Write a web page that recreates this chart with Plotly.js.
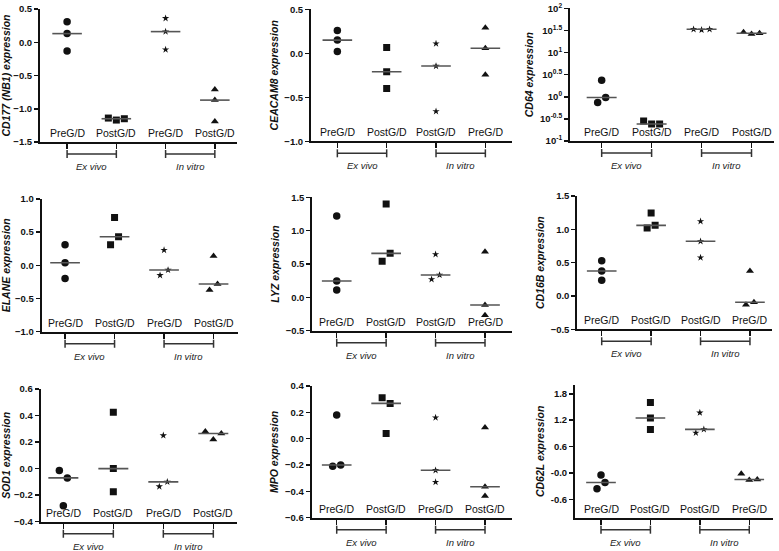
<!DOCTYPE html>
<html><head><meta charset="utf-8">
<script src="https://cdn.plot.ly/plotly-3.0.1.min.js"></script>
<style>html,body{margin:0;padding:0;background:#fff}#chart{width:779px;height:551px}</style>
</head><body><div id="chart"></div>
<script>
// ---------- data ----------
const CATEGORY_POS = [1, 2, 3, 4];
const GROUP_NAMES = ['Ex vivo', 'In vitro'];
const LABELS_A = ['PreG/D', 'PostG/D', 'PreG/D', 'PostG/D'];
const LABELS_B = ['PreG/D', 'PostG/D', 'PostG/D', 'PreG/D'];
const GENES = ['CD177 (NB1)', 'CEACAM8', 'CD64', 'ELANE', 'LYZ', 'CD16B', 'SOD1', 'MPO', 'CD62L'];

// each: [ex vivo 1st col, ex vivo 2nd col, in vitro 1st col, in vitro 2nd col]
const CD177   = [[0.31, 0.13, -0.13], [-1.14, -1.17, -1.15], [0.36, 0.16, -0.11], [-0.71, -0.87, -1.19]];
const CEACAM8 = [[0.26, 0.15, 0.02], [0.065, -0.21, -0.40], [0.11, -0.145, -0.66], [0.29, 0.057, -0.245]];
const CD64    = [[2.37, 0.741, 0.964], [0.284, 0.243, 0.243], [33.5, 32.4, 33.5], [28.6, 26.3, 27.2]];
const ELANE   = [[0.31, 0.04, -0.20], [0.31, 0.72, 0.43], [0.23, -0.15, -0.07], [0.14, -0.37, -0.28]];
const LYZ     = [[1.22, 0.245, 0.11], [0.54, 1.40, 0.66], [0.645, 0.27, 0.335], [0.685, -0.115, -0.27]];
const CD16B   = [[0.53, 0.375, 0.235], [1.02, 1.245, 1.06], [1.12, 0.82, 0.575], [0.375, -0.13, -0.095]];
const SOD1    = [[-0.015, -0.28, -0.07], [0.425, 0.0, -0.174], [0.25, -0.135, -0.10], [0.28, 0.22, 0.265]];
const MPO     = [[0.18, -0.21, -0.20], [0.31, 0.04, 0.268], [0.16, -0.24, -0.33], [0.085, -0.365, -0.435]];
const CD62L   = [[-0.36, -0.05, -0.22], [1.60, 1.25, 0.99], [1.37, 0.91, 0.99], [-0.02, -0.16, -0.15]];

const LOG_TICKS = [-1, -0.5, 0, 0.5, 1, 1.5, 2];
const CD62L_TICKS = [-0.6, 0, 0.6, 1.2, 1.8];
const CD62L_TICKTEXT = ['-0.6', '-0.0', '0.6', '1.2', '1.8'];

// ---------- layout geometry (pixels) ----------
const W = 779, H = 551;
const panels = [
  {gene: GENES[0], vals: CD177,   labels: LABELS_A, box: [40, 237, 9, 142],        xr: [0.45, 4.45],  yr: [-1.5, 0.5], dtick: 0.5},
  {gene: GENES[1], vals: CEACAM8, labels: LABELS_B, box: [311, 512, 9.3, 141.3],   xr: [0.466, 4.54], yr: [-1.0, 0.5], dtick: 0.5},
  {gene: GENES[2], vals: CD64,    labels: LABELS_A, box: [570, 774, 8.3, 141],     xr: [0.366, 4.45], yr: [-1, 2], log: true},
  {gene: GENES[3], vals: ELANE,   labels: LABELS_A, box: [41.7, 238.3, 199, 331.7], xr: [0.528, 4.5], yr: [-1.0, 1.0], dtick: 0.5},
  {gene: GENES[4], vals: LYZ,     labels: LABELS_B, box: [312.3, 511.7, 197.3, 330.7], xr: [0.506, 4.54], yr: [-0.5, 1.5], dtick: 0.5},
  {gene: GENES[5], vals: CD16B,   labels: LABELS_B, box: [577.3, 771.7, 196, 329.3], xr: [0.506, 4.44], yr: [-0.5, 1.5], dtick: 0.5},
  {gene: GENES[6], vals: SOD1,    labels: LABELS_A, box: [40.7, 237.3, 389, 521.7], xr: [0.547, 4.48], yr: [-0.4, 0.6], dtick: 0.2},
  {gene: GENES[7], vals: MPO,     labels: LABELS_A, box: [311.7, 511.7, 386, 517.7], xr: [0.494, 4.54], yr: [-0.6, 0.4], dtick: 0.2},
  {gene: GENES[8], vals: CD62L,   labels: LABELS_B, box: [575, 773, 385, 517.7],   xr: [0.474, 4.48], yr: [-1.02, 2.0], custom: true}
];

const SYMBOLS = ['circle', 'square', 'star', 'triangle-up'];
const SIZES = [7.5, 7, 5.5, 7];
const FONT = 'Liberation Sans, Arial, sans-serif';
const BIN_PX = 8.5, SPREAD_PX = 8, HALF_MED = 0.3;

function median(a) { const s = a.slice().sort((p, q) => p - q); return s[Math.floor(s.length / 2)]; }

// column-scatter offsets: bin close points in pixel space, then spread them sideways
function offsets(vals, p) {
  const hpx = p.box[3] - p.box[2], wpx = p.box[1] - p.box[0];
  const t = v => p.log ? Math.log10(v) : v;
  const py = vals.map(v => (t(v) - p.yr[0]) / (p.yr[1] - p.yr[0]) * hpx);
  const order = vals.map((v, i) => i).sort((a, b) => py[a] - py[b]);
  const off = vals.map(() => 0);
  let i = 0;
  while (i < order.length) {
    const bin = [order[i]];
    let j = i + 1;
    while (j < order.length && py[order[j]] - py[order[i]] < BIN_PX) { bin.push(order[j]); j++; }
    bin.sort((a, b) => a - b);
    bin.forEach((idx, k) => { off[idx] = (k - (bin.length - 1) / 2) * SPREAD_PX * (p.xr[1] - p.xr[0]) / wpx; });
    i = j;
  }
  return off;
}

const data = [];
const layout = {
  width: W, height: H, margin: {l: 0, r: 0, t: 0, b: 0},
  paper_bgcolor: '#fff', plot_bgcolor: '#fff', showlegend: false,
  font: {family: FONT, color: '#111'},
  shapes: [], annotations: []
};

panels.forEach((p, n) => {
  const k = n === 0 ? '' : String(n + 1);
  const xa = 'x' + k, ya = 'y' + k;
  p.vals.forEach((vals, g) => {
    const off = offsets(vals, p);
    data.push({
      type: 'scatter', mode: 'markers', xaxis: xa, yaxis: ya,
      x: vals.map((v, i) => CATEGORY_POS[g] + off[i]), y: vals,
      marker: {symbol: SYMBOLS[g], size: SIZES[g], color: '#111'},
      hoverinfo: 'y'
    });
    const m = median(vals);
    data.push({
      type: 'scatter', mode: 'lines', xaxis: xa, yaxis: ya,
      x: [CATEGORY_POS[g] - HALF_MED, CATEGORY_POS[g] + HALF_MED], y: [m, m],
      line: {color: '#555', width: 1.6}, hoverinfo: 'skip'
    });
    layout.annotations.push({
      xref: xa, yref: ya + ' domain', x: CATEGORY_POS[g], y: 0, yanchor: 'bottom', yshift: 1,
      text: p.labels[g], showarrow: false, font: {size: 10.5, color: '#111', family: FONT}
    });
  });
  // brackets for groups
  [[0, 1], [2, 3]].forEach((pair, gi) => {
    const a = CATEGORY_POS[pair[0]], b = CATEGORY_POS[pair[1]];
    const base = {type: 'line', xref: xa, yref: ya + ' domain', ysizemode: 'pixel', yanchor: 0,
                  line: {color: '#333', width: 1.5}};
    layout.shapes.push(Object.assign({}, base, {x0: a, x1: b, y0: -12, y1: -12}));
    layout.shapes.push(Object.assign({}, base, {x0: a, x1: a, y0: -8, y1: -16}));
    layout.shapes.push(Object.assign({}, base, {x0: b, x1: b, y0: -8, y1: -16}));
    layout.annotations.push({
      xref: xa, yref: ya + ' domain', x: (a + b) / 2, y: 0, yanchor: 'top', yshift: -17,
      text: '<i>' + GROUP_NAMES[gi] + '</i>', showarrow: false, font: {size: 9.5, color: '#222', family: FONT}
    });
  });

  const xd = [p.box[0] / W, p.box[1] / W];
  const yd = [(H - p.box[3]) / H, (H - p.box[2]) / H];
  layout['xaxis' + k] = {
    domain: xd, range: p.xr, anchor: ya, showgrid: false, zeroline: false,
    showline: true, linecolor: '#111', linewidth: 2,
    tickmode: 'array', tickvals: CATEGORY_POS, showticklabels: false,
    ticks: 'outside', ticklen: 5, tickwidth: 1.5, tickcolor: '#111', fixedrange: true
  };
  const yax = {
    domain: yd, anchor: xa, showgrid: false, zeroline: false,
    showline: true, linecolor: '#111', linewidth: 2,
    ticks: 'outside', ticklen: 4, tickwidth: 1.5, tickcolor: '#111',
    tickfont: {size: 9.5, family: FONT, weight: 'bold', color: '#111'},
    title: {text: '<i>' + p.gene + ' expression</i>', standoff: 4,
            font: {size: 10.5, family: FONT, weight: 'bold', color: '#111'}},
    fixedrange: true
  };
  if (p.log) {
    yax.type = 'log'; yax.range = p.yr;
    yax.tickmode = 'array';
    yax.tickvals = LOG_TICKS.map(e => Math.pow(10, e));
    yax.ticktext = LOG_TICKS.map(e => '10<sup>' + e + '</sup>');
  } else if (p.custom) {
    yax.range = p.yr; yax.tickmode = 'array'; yax.tickvals = CD62L_TICKS; yax.ticktext = CD62L_TICKTEXT;
  } else {
    yax.range = p.yr; yax.dtick = p.dtick; yax.tick0 = 0; yax.tickformat = '.1f';
  }
  layout['yaxis' + k] = yax;
});

Plotly.newPlot('chart', data, layout, {staticPlot: true, displayModeBar: false});
</script>
</body></html>
